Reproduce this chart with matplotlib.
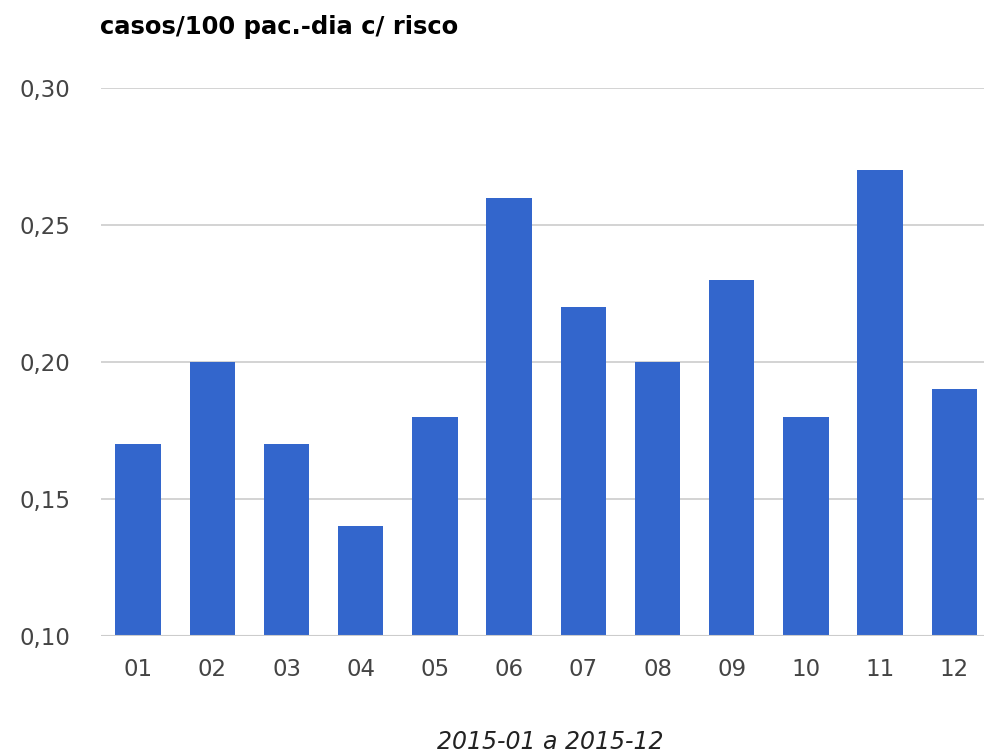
import matplotlib
matplotlib.use('Agg')
import matplotlib.pyplot as plt
from matplotlib.ticker import FuncFormatter

months = ['01', '02', '03', '04', '05', '06', '07', '08', '09', '10', '11', '12']
rates = [0.17, 0.20, 0.17, 0.14, 0.18, 0.26, 0.22, 0.20, 0.23, 0.18, 0.27, 0.19]
y_ticks = [0.10, 0.15, 0.20, 0.25, 0.30]

plt.rcParams['font.family'] = ['DejaVu Sans']

fig = plt.figure(figsize=(9.84, 7.56), dpi=100)
ax = fig.add_axes([101 / 984, 1 - 636 / 756, 883 / 984, (636 - 88) / 756])

x = list(range(len(months)))
ax.bar(x, rates, width=0.61, color='#3366CC', zorder=3)

ax.set_ylim(0.10, 0.30)
ax.set_xlim(-0.5, 11.4)
ax.set_yticks(y_ticks)
ax.yaxis.set_major_formatter(FuncFormatter(lambda v, p: f'{v:.2f}'.replace('.', ',')))
ax.set_xticks(x)
ax.set_xticklabels(months)

ax.grid(True, axis='y', color='#cccccc', linewidth=1.2, zorder=0)
ax.axhline(0.10, color='#cccccc', linewidth=1.5, zorder=4)
for s in ax.spines.values():
    s.set_visible(False)
ax.tick_params(axis='both', length=0, labelsize=16.5, labelcolor='#444444')
ax.tick_params(axis='y', pad=22)
ax.tick_params(axis='x', pad=16)

fig.text(100 / 984, 1 - 27 / 756, 'casos/100 pac.-dia c/ risco', fontsize=17.5,
         fontweight='bold', ha='left', va='center', color='#000000')
fig.text(550 / 984, 1 - 742 / 756, '2015-01 a 2015-12', fontsize=17,
         style='italic', ha='center', va='center', color='#222222')

fig.savefig('out.png', dpi=100)
